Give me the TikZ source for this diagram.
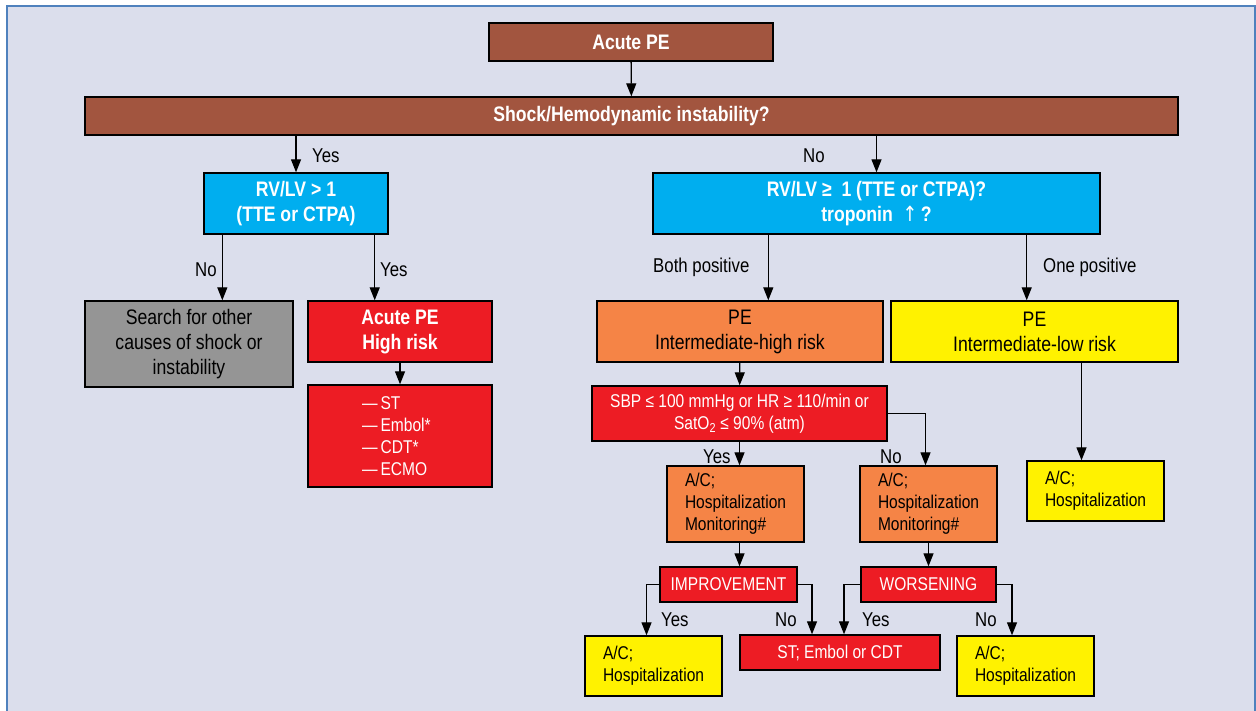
\documentclass[tikz,border=0pt]{standalone}
\usepackage{fontspec}
\setmainfont{Liberation Sans}[FakeStretch=0.84]
\newfontfamily\arrowfont{DejaVu Sans}[FakeStretch=0.84]
\usepackage{xcolor}
\usepackage{tikz}
\usetikzlibrary{arrows.meta}

\definecolor{framefill}{HTML}{DBDEEC}
\definecolor{frameline}{HTML}{4F81BD}
\definecolor{pebrown}{HTML}{A2553F}
\definecolor{pecyan}{HTML}{00AEEF}
\definecolor{pegray}{HTML}{959595}
\definecolor{pered}{HTML}{ED1C24}
\definecolor{peorange}{HTML}{F58446}
\definecolor{peyellow}{HTML}{FFF200}

\begin{document}
\begin{tikzpicture}[x=1pt,y=-1pt,
  box/.style={draw=black, line width=1.4pt, inner sep=0pt, align=center},
  hd/.style={font=\bfseries\fontsize{21}{25}\selectfont, text=white},
  big/.style={font=\fontsize{21}{25}\selectfont},
  sm/.style={font=\fontsize{18.5}{22}\selectfont},
  lbl/.style={font=\fontsize{20}{24}\selectfont, inner sep=0pt, anchor=base west},
  acbox/.style={box, sm, fill=#1, text width=101pt, inner xsep=18pt, align=left},
  arr/.style={line width=1.3pt, -{Triangle[length=13pt,width=10pt]}},
  ln/.style={line width=1.3pt}]
\useasboundingbox (0,0) rectangle (1256,710);
\fill[white] (0,0) rectangle (1256,710);
\draw[frameline, fill=framefill, line width=2pt] (7,6) rectangle (1255,730);

\node[box, hd, fill=pebrown, minimum width=284pt, minimum height=38pt] (acute) at (631,42) {Acute PE};
\node[box, hd, fill=pebrown, minimum width=1093pt, minimum height=38pt] (shock) at (631.5,116) {Shock/Hemodynamic instability?};
\node[box, hd, fill=pecyan, minimum width=184pt, minimum height=61pt] (rvlvA) at (296,203.5) {RV/LV \textgreater\ 1\\(TTE or CTPA)};
\node[box, hd, fill=pecyan, minimum width=447pt, minimum height=61pt] (rvlvB) at (876.5,203.5) {RV/LV ≥\ \ 1 (TTE or CTPA)?\\troponin\ \ {\arrowfont\mdseries ↑}\,?};
\node[box, big, fill=pegray, minimum width=208pt, minimum height=86pt] (other) at (189,344) {Search for other\\causes of shock or\\instability};
\node[box, hd, fill=pered, minimum width=184pt, minimum height=61pt] (high) at (400,331.5) {Acute PE\\High risk};
\node[box, sm, fill=pered, text=white, text width=76pt, inner xsep=54pt, align=left, minimum height=102pt] (treat) at (400,436) {—\,ST\\—\,Embol*\\—\,CDT*\\—\,ECMO};
\node[box, big, fill=peorange, minimum width=286pt, minimum height=61pt] (inthigh) at (740,331.5) {PE\\Intermediate-high risk};
\node[box, big, fill=peyellow, minimum width=287pt, minimum height=61pt] (intlow) at (1034.5,331.5) {PE\\Intermediate-low risk};
\node[box, sm, fill=pered, text=white, minimum width=295pt, minimum height=55pt] (sbp) at (739.5,413.5) {SBP ≤ 100 mmHg or HR ≥ 110/min or\\SatO\textsubscript{2} ≤ 90\% (atm)};
\node[acbox=peorange, minimum height=76pt] (acA) at (735.5,504) {A/C;\\Hospitalization\\Monitoring\#};
\node[acbox=peorange, minimum height=76pt] (acB) at (928.5,504) {A/C;\\Hospitalization\\Monitoring\#};
\node[acbox=peyellow, minimum height=60pt] (acC) at (1095.5,491) {A/C;\\Hospitalization};
\node[box, sm, fill=pered, text=white, minimum width=137pt, minimum height=35pt] (better) at (728.5,584.5) {IMPROVEMENT};
\node[box, sm, fill=pered, text=white, minimum width=135pt, minimum height=35pt] (worse) at (928.5,584.5) {WORSENING};
\node[box, sm, fill=pered, text=white, minimum width=200pt, minimum height=35pt] (rescue) at (840,652.5) {ST; Embol or CDT};
\node[acbox=peyellow, minimum height=60pt] (acD) at (653.5,666) {A/C;\\Hospitalization};
\node[acbox=peyellow, minimum height=60pt] (acE) at (1025.5,666) {A/C;\\Hospitalization};

\draw[arr] (acute) -- (shock);
\draw[arr] (shock.south -| rvlvA) -- (rvlvA);
\draw[arr] (shock.south -| rvlvB) -- (rvlvB);
\draw[arr] ([xshift=19pt]rvlvA.south west) -- ([xshift=19pt]rvlvA.south west |- other.north);
\draw[arr] ([xshift=-14pt]rvlvA.south east) -- ([xshift=-14pt]rvlvA.south east |- high.north);
\draw[arr] (high) -- (treat);
\draw[arr] ([xshift=116pt]rvlvB.south west) -- ([xshift=116pt]rvlvB.south west |- inthigh.north);
\draw[arr] ([xshift=-74pt]rvlvB.south east) -- ([xshift=-74pt]rvlvB.south east |- intlow.north);
\draw[arr] (inthigh) -- (sbp);
\draw[arr] (sbp.south) -- (sbp.south |- acA.north);
\draw[arr] (sbp.east) -| ([xshift=-3pt]acB.north);
\draw[arr] ([xshift=-14pt]acC.north |- intlow.south) -- ([xshift=-14pt]acC.north);
\draw[arr] ([xshift=4pt]acA.south) -- ([xshift=4pt]acA.south |- better.north);
\draw[arr] (acB) -- (worse);
\draw[arr] (better.west) -| ([xshift=-7pt]acD.north);
\draw[arr] (better.east) -| ([xshift=-28pt]rescue.north);
\draw[arr] (worse.west) -| ([xshift=4pt]rescue.north);
\draw[arr] (worse.east) -| ([xshift=-13.5pt]acE.north);

\node[lbl] (yesA) at (312,162) {Yes};
\node[lbl] (noA) at (803,162) {No};
\node[lbl] (noB) at (195,276) {No};
\node[lbl] (yesB) at (380,276) {Yes};
\node[lbl] (both) at (653,272) {Both positive};
\node[lbl] (one) at (1043,272) {One positive};
\node[lbl] (yesC) at (703,463) {Yes};
\node[lbl] (noC) at (880,463) {No};
\node[lbl] (yesD) at (661,626) {Yes};
\node[lbl] (noD) at (775,626) {No};
\node[lbl] (yesE) at (862,626) {Yes};
\node[lbl] (noE) at (975,626) {No};
\end{tikzpicture}
\end{document}
